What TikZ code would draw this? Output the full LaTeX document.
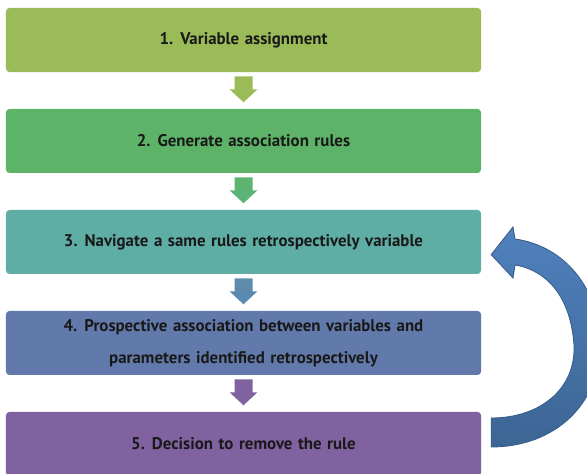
\documentclass[tikz,border=0pt]{standalone}
\usepackage{fontspec}
\setmainfont{PT Sans}[WordSpace=1.3]
\usetikzlibrary{positioning}

\definecolor{stepA}{HTML}{9BBB59}
\definecolor{stepB}{HTML}{5DB468}
\definecolor{stepC}{HTML}{5FAEA5}
\definecolor{stepD}{HTML}{627AAB}
\definecolor{stepE}{HTML}{8062A0}
\definecolor{linkB}{HTML}{5DB47C}
\definecolor{loopfill}{HTML}{4F81BD}
\definecolor{loopdark}{HTML}{3D6594}
\definecolor{loopedge}{HTML}{385D8A}

\begin{document}
\begin{tikzpicture}[x=0.025cm, y=0.025cm,
  stage/.style={rectangle, rounded corners=2.5pt, minimum width=11.875cm, minimum height=1.6cm,
    align=center, text=black!90, font=\fontsize{12}{14}\selectfont\bfseries},
  flowarrow/.style={draw=none}]
\useasboundingbox (0,0) rectangle (587,474);

% the five stages, top to bottom
\node[stage, fill=stepA] (b1) at (243.5,434) {1. Variable  assignment};
\node[stage, fill=stepB, below=0.91cm of b1] (b2) {2. Generate  association  rules};
\node[stage, fill=stepC, below=0.91cm of b2] (b3) {3. Navigate a same rules retrospectively variable};
\node[stage, fill=stepD, below=0.91cm of b3] (b4) {4. Prospective association  between variables and\\[9pt] parameters identified retrospectively};
\node[stage, fill=stepE, below=0.91cm of b4] (b5) {5. Decision  to remove the rule};

% block arrows between stages
\foreach \a/\ca/\cb in {b1/stepA/stepA, b2/stepB/linkB, b3/stepC!40!stepD/stepD!90!cyan, b4/stepE/stepE}
  \path[flowarrow, top color=\ca, bottom color=\cb] (\a.south) ++(-9,-4) -- ++(18,0) -- ++(0,-13) -- ++(5,0)
    -- ++(-14,-13) -- ++(-14,13) -- ++(5,0) -- cycle;

% curved arrow back from stage 5 to stage 3
\draw[loopedge, line width=0.6pt, top color=loopfill, bottom color=loopdark]
  ([xshift=7] b5.east |- 0,27) .. controls (555,27) and (600,70) .. (600,129)
    .. controls (600,185) and (565,228) .. (515,235)
    -- (513,247) -- ([xshift=7, yshift=-9] b3.east) -- (513,196) -- (515,209)
    .. controls (540,205) and (570,185) .. (574,129)
    .. controls (576,85) and (540,56) .. ([xshift=7] b5.east |- 0,56) -- cycle;

\end{tikzpicture}
\end{document}
